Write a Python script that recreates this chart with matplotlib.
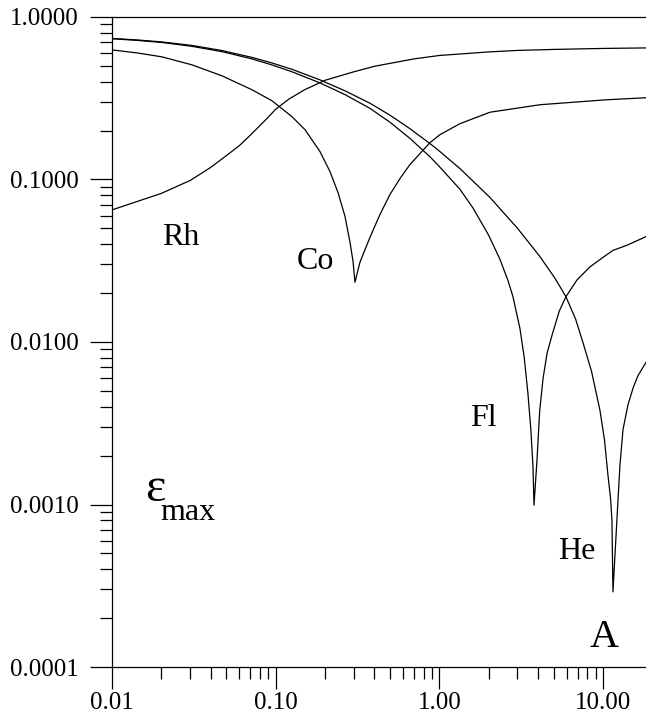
import matplotlib
matplotlib.use('Agg')
import matplotlib.pyplot as plt
from matplotlib.ticker import LogLocator, FixedLocator, FixedFormatter, NullFormatter

plt.rcParams['font.family'] = ['Liberation Serif', 'DejaVu Serif']

# Rh
x_rh = [0.01, 0.02, 0.03, 0.04, 0.05, 0.06, 0.07, 0.08, 0.09, 0.1, 0.12, 0.15, 0.2,
        0.3, 0.4, 0.5, 0.7, 1.0, 2.0, 3.0, 5.0, 10.0, 18.29]
y_rh = [0.0650, 0.0821, 0.0986, 0.1185, 0.1404, 0.1616, 0.1875, 0.2144, 0.2417, 0.2707,
        0.3118, 0.3565, 0.4077, 0.4599, 0.4970, 0.5185, 0.5524, 0.5797, 0.6097, 0.6227,
        0.6316, 0.6406, 0.6452]

# Co (dip near 0.3)
x_co = [0.01, 0.01422, 0.0202, 0.0308, 0.0470, 0.0717, 0.0949, 0.1258, 0.151, 0.1865,
        0.2146, 0.2402, 0.2651, 0.2844, 0.2967, 0.3051, 0.3273, 0.3768, 0.4337, 0.4992,
        0.5745, 0.6613, 0.8762, 1.0085, 1.336, 2.038, 4.118, 10.56, 18.29]
y_co = [0.6273, 0.6013, 0.5684, 0.5076, 0.4345, 0.3565, 0.3052, 0.2435, 0.2026, 0.1485,
        0.1119, 0.0832, 0.0593, 0.0411, 0.0314, 0.02333, 0.0310, 0.0441, 0.0610, 0.0809,
        0.1014, 0.1236, 0.1687, 0.1888, 0.2206, 0.2595, 0.2885, 0.3096, 0.3185]

# Fl (dip near 3.8)
x_fl = [0.01, 0.01422, 0.0202, 0.0308, 0.047, 0.0717, 0.0949, 0.1258, 0.1865, 0.2651,
        0.3768, 0.4992, 0.6613, 0.8762, 1.0085, 1.336, 1.604, 2.0, 2.344, 2.624, 2.815,
        3.106, 3.3, 3.476, 3.62, 3.732, 3.784, 3.945, 4.1, 4.297, 4.55, 4.875, 5.4, 5.93,
        6.93, 8.32, 10.0, 11.49, 14.0, 18.29]
y_fl = [0.735, 0.718, 0.697, 0.660, 0.612, 0.552, 0.507, 0.460, 0.393, 0.333, 0.274,
        0.225, 0.179, 0.138, 0.119, 0.087, 0.0668, 0.0454, 0.0323, 0.0239, 0.0190, 0.0121,
        0.0080, 0.0048, 0.0029, 0.0017, 0.00099, 0.00186, 0.00377, 0.00595, 0.00855,
        0.0110, 0.0155, 0.0190, 0.0241, 0.0290, 0.0332, 0.0366, 0.0394, 0.0445]

# He (dip near 11.5)
x_he = [0.01, 0.01422, 0.0202, 0.0308, 0.047, 0.0717, 0.0949, 0.1258, 0.1865, 0.2651,
        0.3768, 0.4992, 0.6613, 0.8762, 1.0085, 1.336, 2.038, 3.0, 4.118, 5.08, 5.93, 6.8,
        7.54, 8.5, 9.57, 10.2, 10.72, 11.1, 11.33, 11.49, 12.16, 12.68, 13.24, 14.19,
        15.24, 16.33, 18.29]
y_he = [0.738, 0.7226, 0.7024, 0.6683, 0.6216, 0.5640, 0.5213, 0.4764, 0.4102, 0.3514,
        0.2946, 0.2487, 0.2054, 0.1663, 0.1486, 0.1167, 0.0775, 0.0501, 0.0335, 0.0247,
        0.0190, 0.0138, 0.0099, 0.0066, 0.0038, 0.0025, 0.0015, 0.0011, 0.0008, 0.00029,
        0.00082, 0.00175, 0.0029, 0.0041, 0.0052, 0.0062, 0.0075]

y_major = [1.0, 0.1, 0.01, 0.001, 0.0001]
y_labels = ['1.0000', '0.1000', '0.0100', '0.0010', '0.0001']
x_major = [0.01, 0.1, 1.0, 10.0]
x_labels = ['0.01', '0.10', '1.00', '10.00']

fig = plt.figure(figsize=(6.46, 7.28), dpi=100)
ax = fig.add_axes([112 / 646, 1 - 667 / 728, 1 - 112 / 646, 650 / 728])

for xs, ys in [(x_rh, y_rh), (x_co, y_co), (x_fl, y_fl), (x_he, y_he)]:
    ax.plot(xs, ys, color='black', lw=0.9)

ax.set_xscale('log')
ax.set_yscale('log')
ax.set_xlim(0.01, 18.29)
ax.set_ylim(0.0001, 1.0)

ax.yaxis.set_major_locator(FixedLocator(y_major))
ax.yaxis.set_major_formatter(FixedFormatter(y_labels))
ax.xaxis.set_major_locator(FixedLocator(x_major))
ax.xaxis.set_major_formatter(FixedFormatter(x_labels))
ax.xaxis.set_minor_locator(LogLocator(base=10, subs=range(2, 10), numticks=20))
ax.yaxis.set_minor_locator(LogLocator(base=10, subs=range(2, 10), numticks=20))
ax.xaxis.set_minor_formatter(NullFormatter())
ax.yaxis.set_minor_formatter(NullFormatter())

ax.tick_params(which='major', direction='out', length=16, width=0.9, labelsize=18)
ax.tick_params(which='minor', direction='out', length=8.5, width=0.9)
ax.tick_params(axis='y', which='major', pad=8)
ax.tick_params(axis='x', which='major', pad=2)
ax.spines['right'].set_visible(False)
for s in ['left', 'bottom', 'top']:
    ax.spines[s].set_linewidth(0.9)

ax.text(0.0264, 0.044, 'Rh', fontsize=23, ha='center', va='center')
ax.text(0.174, 0.0314, 'Co', fontsize=23, ha='center', va='center')
ax.text(1.85, 0.00337, 'Fl', fontsize=23, ha='center', va='center')
ax.text(6.92, 0.000515, 'He', fontsize=23, ha='center', va='center')
ax.text(10.1, 0.000151, 'A', fontsize=29, ha='center', va='center')
ax.text(0.0212, 0.00105, '\u03b5', fontsize=35, ha='right', va='baseline')
ax.text(0.0198, 0.00080, 'max', fontsize=23, ha='left', va='baseline')

fig.savefig('out.png', dpi=100)
